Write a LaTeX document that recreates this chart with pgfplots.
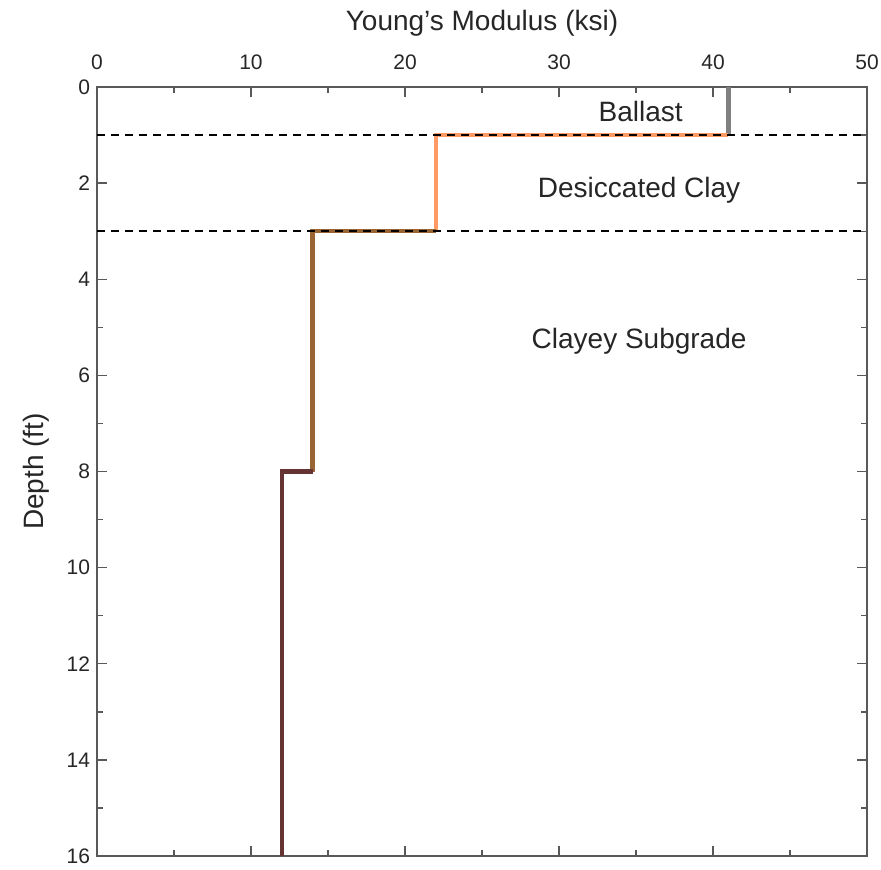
\documentclass[border=0pt]{standalone}
\usepackage{pgfplots}
\pgfplotsset{compat=1.18}
\usepackage{fontspec}
\setmainfont{Liberation Sans}
\definecolor{ballast}{HTML}{808080}
\definecolor{desic}{HTML}{FF9966}
\definecolor{clayey}{HTML}{996633}
\definecolor{deep}{HTML}{663333}
\begin{document}
\begin{tikzpicture}
\begin{axis}[
  scale only axis, width=385pt, height=384.5pt,
  xmin=0, xmax=50, ymin=0, ymax=16, y dir=reverse,
  xtick={0,10,...,50}, ytick={0,2,...,16},
  minor x tick num=1, minor y tick num=1,
  xticklabel pos=upper,
  tick align=inside,
  major tick length=5pt, minor tick length=3pt,
  axis line style={draw=black!65, line width=0.8pt},
  every tick/.style={black!65, line width=0.7pt},
  /pgf/number format/assume math mode=true,
  tick label style={font=\fontsize{10.5}{12}\selectfont, text=black!85},
  xticklabel style={yshift=5pt},
  label style={font=\fontsize{14}{16}\selectfont, text=black!85},
  xlabel={Young's Modulus (ksi)},
  ylabel={Depth (ft)},
  xlabel shift=2.5pt,
  ylabel shift=2pt,
  clip=false,
]
\addplot[ballast, line width=2.2pt] coordinates {(41,0) (41,1)};
\addplot[desic, line width=2.2pt] coordinates {(41,1) (22,1) (22,3)};
\addplot[clayey, line width=2.2pt] coordinates {(22,3) (14,3) (14,8)};
\addplot[deep, line width=2.2pt] coordinates {(14,8) (12,8) (12,16)};
\addplot[black, line width=1.1pt, dash pattern=on 4pt off 3pt] coordinates {(0,1) (50,1)};
\addplot[black, line width=1.1pt, dash pattern=on 4pt off 3pt] coordinates {(0,3) (50,3)};
\node[font=\fontsize{14}{16}\selectfont, text=black!85] at (axis cs:35.3,0.5) {Ballast};
\node[font=\fontsize{14}{16}\selectfont, text=black!85] at (axis cs:35.2,2.14) {Desiccated Clay};
\node[font=\fontsize{14}{16}\selectfont, text=black!85] at (axis cs:35.2,5.28) {Clayey Subgrade};
\end{axis}
\pgfresetboundingbox
\path[use as bounding box] ([xshift=-48.5pt,yshift=-6.5pt]current axis.south west) rectangle ([xshift=7pt,yshift=43.5pt]current axis.north east);
\end{tikzpicture}
\end{document}
